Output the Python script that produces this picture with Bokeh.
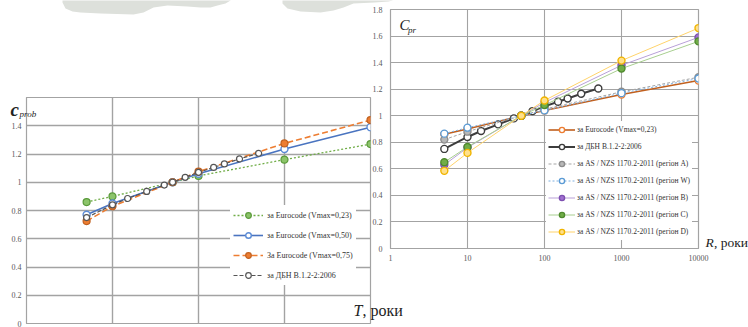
from bokeh.plotting import figure
from bokeh.models import (Range1d, FixedTicker, NumeralTickFormatter, Legend, LegendItem, Label)
from bokeh.layouts import row, column
from bokeh.embed import file_html
from bokeh.resources import INLINE

# ---------------- data (left chart: c_prob vs T) ----------------
T_euro = [5, 10, 50, 100, 1000, 10000]
euro_023 = [0.86, 0.90, 1.00, 1.045, 1.16, 1.27]
euro_050 = [0.77, 0.85, 1.00, 1.06, 1.235, 1.39]
euro_075 = [0.725, 0.83, 1.00, 1.075, 1.275, 1.44]
T_dbn = [5, 10, 15, 25, 40, 50, 70, 100, 150, 200, 300, 500]
dbn = [0.75, 0.84, 0.885, 0.935, 0.98, 1.00, 1.035, 1.07, 1.105, 1.13, 1.165, 1.205]
left_y_ticks = [0, 0.2, 0.4, 0.6, 0.8, 1.0, 1.2, 1.4]
left_grid_y = [0, 0.2, 0.4, 0.6, 0.8, 1.0, 1.2, 1.4, 1.6]
left_x_ticks = [1, 10, 100, 1000, 10000]

# ---------------- data (right chart: C_pr vs R) ----------------
R_as = [5, 10, 50, 100, 1000, 10000]
r_euro = [0.86, 0.90, 1.00, 1.04, 1.16, 1.265]
r_A = [0.82, 0.88, 1.00, 1.05, 1.18, 1.29]
r_W = [0.865, 0.91, 1.00, 1.04, 1.17, 1.28]
r_B = [0.63, 0.76, 1.00, 1.10, 1.38, 1.59]
r_C = [0.65, 0.765, 1.00, 1.08, 1.355, 1.56]
r_D = [0.585, 0.72, 1.00, 1.115, 1.415, 1.66]
right_y_ticks = [0, 0.2, 0.4, 0.6, 0.8, 1.0, 1.2, 1.4, 1.6, 1.8]
right_x_ticks = [1, 10, 100, 1000, 10000]

left_labels = ["за Eurocode (Vmax=0,23)", "за Eurocode (Vmax=0,50)",
               "За Eurocode (Vmax=0,75)", "за ДБН В.1.2-2:2006"]
right_labels = ["за Eurocode (Vmax=0,23)", "за ДБН В.1.2-2:2006",
                "за AS / NZS 1170.2-2011 (регіон A)", "за AS / NZS 1170.2-2011 (регіон W)",
                "за AS / NZS 1170.2-2011 (регіон B)", "за AS / NZS 1170.2-2011 (регіон C)",
                "за AS / NZS 1170.2-2011 (регіон D)"]

# decorative grey cloud shapes of the slide background (page pixels, y downwards)
cloud1_x = [62, 62, 65, 72, 80, 100, 133, 143, 153, 167, 187, 200, 210, 217, 225, 230, 230]
cloud1_y = [-2, 2, 8, 11, 12, 13, 14, 12, 7, 5, 6, 7, 7, 5, 3, 0, -2]
cloud2_x = [282, 282, 287, 300, 320, 333, 343, 353, 374, 388, 392, 392]
cloud2_y = [-2, 3, 8, 11, 12, 10, 7, 3, 2, 1, 0, -2]

SERIF = "Liberation Serif"
TICK_COLOR = "#595959"
GRID = "#a3a3a3"
CLOUD = "#dde0db"
PAGE_W, PAGE_H = 748, 327


def style_axes(p, yticks, ygrid, xticks):
    for ax in p.yaxis:
        ax.ticker = FixedTicker(ticks=yticks)
        ax.formatter = NumeralTickFormatter(format="0.[0]")
    for ax in p.xaxis:
        ax.ticker = FixedTicker(ticks=xticks)
        ax.formatter = NumeralTickFormatter(format="0")
    for ax in list(p.yaxis) + list(p.xaxis):
        ax.major_label_text_font = SERIF
        ax.major_label_text_font_size = "8px"
        ax.major_label_text_color = TICK_COLOR
        ax.major_tick_out = 0
        ax.major_tick_in = 0
        ax.minor_tick_out = 0
        ax.minor_tick_in = 0
        ax.axis_line_color = GRID
    p.xgrid.ticker = FixedTicker(ticks=xticks)
    p.ygrid.ticker = FixedTicker(ticks=ygrid)
    p.grid.grid_line_color = GRID
    p.outline_line_color = GRID
    p.outline_line_width = 1.2


def text_label(text, x, y, size, style="normal"):
    return Label(x=x, y=y, text=text, text_font=SERIF, text_font_size=size,
                 text_font_style=style, text_color="#222222",
                 text_baseline="alphabetic", text_align="left")


# ================= full-page background layer with the clouds =================
pc = figure(width=PAGE_W, height=PAGE_H, title=None, output_backend="svg", toolbar_location=None,
            x_range=Range1d(0, PAGE_W), y_range=Range1d(PAGE_H, 0),
            x_axis_location=None, y_axis_location=None, min_border=0)
pc.frame_align = False
pc.grid.visible = False
pc.outline_line_color = None
pc.patch(cloud1_x, cloud1_y, fill_color=CLOUD, line_color=None)
pc.patch(cloud2_x, cloud2_y, fill_color=CLOUD, line_color=None)

# ================= LEFT FIGURE (page px: frame 26..370 x 97..323) =================
L_W, L_H = 410, PAGE_H
L_FL, L_FR, L_FT, L_FB = 26, 370, 97, 323
p1 = figure(width=L_W, height=L_H, x_axis_type="log", title=None,
            x_range=Range1d(1, 10000), y_range=Range1d(0, 1.6),
            output_backend="svg", toolbar_location=None,
            min_border_left=L_FL, min_border_right=L_W - L_FR,
            min_border_top=L_FT, min_border_bottom=L_H - L_FB)
p1.frame_align = False
style_axes(p1, left_y_ticks, left_grid_y, left_x_ticks)
p1.xaxis.visible = False
p1.yaxis.major_label_standoff = 5
p1.grid.grid_line_width = 1.4
p1.border_fill_color = None
p1.background_fill_color = "white"

l1 = p1.line(T_euro, euro_023, line_color="#70ad47", line_width=1.3, line_dash="2 2")
m1 = p1.scatter(T_euro, euro_023, size=7, fill_color="#8cc46a", line_color="#5a9a3a", line_width=1.2)
l2 = p1.line(T_euro, euro_050, line_color="#4a74c0", line_width=1.6)
m2 = p1.scatter(T_euro, euro_050, size=7, fill_color="white", line_color="#5b8bd5", line_width=1.4)
l3 = p1.line(T_euro, euro_075, line_color="#ed7d31", line_width=1.6, line_dash="6 3")
m3 = p1.scatter(T_euro, euro_075, size=7, fill_color="#ed7d31", line_color="#c0601f", line_width=1.2)
l4 = p1.line(T_dbn, dbn, line_color="#555555", line_width=1.2, line_dash="4 2")
m4 = p1.scatter(T_dbn, dbn, size=6, fill_color="white", line_color="#555555", line_width=1.2)

leg1 = Legend(items=[LegendItem(label=left_labels[0], renderers=[l1, m1]),
                     LegendItem(label=left_labels[1], renderers=[l2, m2]),
                     LegendItem(label=left_labels[2], renderers=[l3, m3]),
                     LegendItem(label=left_labels[3], renderers=[l4, m4])],
              location=(204, 38), margin=0, padding=3, spacing=6,
              glyph_width=30, glyph_height=14, label_height=14, label_standoff=4,
              label_text_font=SERIF, label_text_font_size="8px", label_text_color="#333333",
              border_line_alpha=0, background_fill_color="white", background_fill_alpha=1)
p1.add_layout(leg1, "center")


def left_dx(px):   # page pixel -> left chart data x (log axis 1..10000 across the frame)
    return 10 ** ((px - L_FL) / (L_FR - L_FL) * 4)


def left_dy(py):   # page pixel -> left chart data y (0..1.6 across the frame)
    return (L_FB - py) / (L_FB - L_FT) * 1.6


# texts outside the frame live in a side panel (side panels are not clipped)
p1.add_layout(text_label("c", left_dx(10), left_dy(109), "19px", "bold italic"), "above")
p1.add_layout(text_label("prob", left_dx(19), left_dy(113), "9px", "italic"), "above")
p1.add_layout(text_label("T", left_dx(353), left_dy(310), "16px", "italic"), "above")
p1.add_layout(text_label(", роки", left_dx(362), left_dy(310), "16px"), "above")

# ================= RIGHT FIGURE (page px: frame 390..698 x 9..248) =================
R_X0 = 366                       # page x where the right canvas starts
R_W, R_H = PAGE_W - R_X0, PAGE_H
R_FL, R_FR, R_FT, R_FB = 390 - R_X0, 698 - R_X0, 9, 248
p2 = figure(width=R_W, height=R_H, x_axis_type="log", title=None,
            x_range=Range1d(1, 10000), y_range=Range1d(0, 1.8),
            output_backend="svg", toolbar_location=None,
            min_border_left=R_FL, min_border_right=R_W - R_FR,
            min_border_top=R_FT, min_border_bottom=R_H - R_FB)
p2.frame_align = False
style_axes(p2, right_y_ticks, right_y_ticks, right_x_ticks)
p2.grid.grid_line_width = 1.1
p2.border_fill_color = None
p2.background_fill_color = "white"
p2.yaxis.major_label_standoff = 8
p2.xaxis.major_label_standoff = 6
p2.margin = (0, 0, 0, -(L_W - R_X0))

series = [
    (r_euro, dict(line_color="#c0601f", line_width=1.6), dict(fill_color="white", line_color="#ed7d31")),
    (None, dict(line_color="#3d3d3d", line_width=2.0), dict(fill_color="white", line_color="#3d3d3d")),
    (r_A, dict(line_color="#a5a5a5", line_width=1.0, line_dash="3 2"), dict(fill_color="#b8b8b8", line_color="#8c8c8c")),
    (r_W, dict(line_color="#7fb0e0", line_width=1.0, line_dash="2 2"), dict(fill_color="white", line_color="#5b9bd5")),
    (r_B, dict(line_color="#b9a0d8", line_width=1.0), dict(fill_color="#a070d0", line_color="#7d4fb0")),
    (r_C, dict(line_color="#a8cf90", line_width=1.0), dict(fill_color="#70ad47", line_color="#4f8a2e")),
    (r_D, dict(line_color="#ffd36b", line_width=1.0), dict(fill_color="#ffe08a", line_color="#f0b400")),
]
items = []
for lab, (vals, lkw, mkw) in zip(right_labels, series):
    xs = T_dbn if vals is None else R_as
    ys = dbn if vals is None else vals
    ln = p2.line(xs, ys, **lkw)
    mk = p2.scatter(xs, ys, size=7, line_width=1.4, **mkw)
    items.append(LegendItem(label=lab, renderers=[ln, mk]))

leg2 = Legend(items=items, location=(156, 8), margin=0, padding=2, spacing=4,
              glyph_width=27, glyph_height=13, label_height=13, label_standoff=2,
              label_text_font=SERIF, label_text_font_size="7.5px", label_text_color="#333333",
              border_line_alpha=0, background_fill_color="white", background_fill_alpha=1)
p2.add_layout(leg2, "center")


def right_dx(px):
    return 10 ** ((px - 390) / (698 - 390) * 4)


def right_dy(py):
    return (248 - py) / (248 - 9) * 1.8


p2.add_layout(text_label("C", right_dx(399), right_dy(24), "15px", "italic"))
p2.add_layout(text_label("pr", right_dx(407.5), right_dy(29.5), "9px", "italic"))
p2.add_layout(text_label("R", right_dx(705), right_dy(242), "13.5px", "italic"), "right")
p2.add_layout(text_label(", роки", right_dx(713.5), right_dy(242), "13.5px"), "right")

charts = row(p1, p2, spacing=0)
charts.margin = (-PAGE_H, 0, 0, 0)
layout = column(pc, charts, spacing=0)
open("out.html", "w").write(file_html(layout, INLINE))
